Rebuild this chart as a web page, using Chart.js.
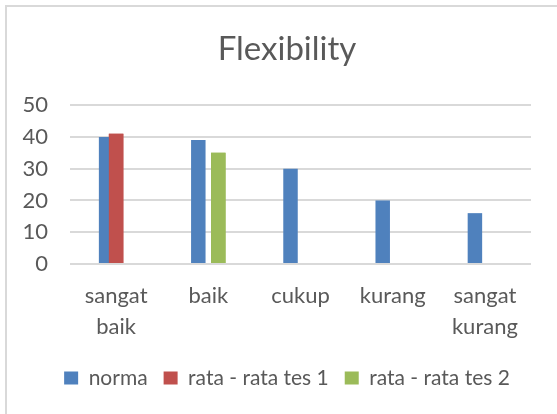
<!DOCTYPE html>
<html>
<head>
<meta charset="utf-8">
<title>Flexibility</title>
<script src="https://cdn.jsdelivr.net/npm/chart.js@4"></script>
<style>
    html, body { margin: 0; padding: 0; background: #ffffff; }
    #wrap { position: relative; width: 557px; height: 414px; overflow: hidden; }
    #frame {
        position: absolute; left: 5px; top: 5px; width: 600px; height: 500px;
        border-left: 2px solid #d9d9d9; border-top: 2px solid #d9d9d9;
    }
    canvas { position: absolute; left: 0; top: 0; }
</style>
</head>
<body>
<div id="wrap">
    <div id="frame"></div>
    <canvas id="flexChart" width="557" height="414"></canvas>
</div>
<script>
// Категории и значения
const categories = [['sangat', 'baik'], 'baik', 'cukup', 'kurang', ['sangat', 'kurang']];
const norma = [40, 39, 30, 20, 16];
const rataTes1 = [41, null, null, null, null];
const rataTes2 = [null, 35, null, null, null];
const yTicks = [0, 10, 20, 30, 40, 50];

const textColor = '#595959';
const fontFamily = 'Lato, "Open Sans", sans-serif';

// Рисуем серии по порядку, чтобы следующая лежала поверх предыдущей (как в Excel)
const drawOrder = {
    id: 'drawOrder',
    afterLayout(chart) {
        // подписи оси Y выходят левее самой оси, расширяем область отсечения
        chart.scales.y.left = 10;
    },
    afterDatasetsDraw(chart) {
        for (let i = 1; i < chart.data.datasets.length; i++) {
            chart.getDatasetMeta(i).controller.draw();
        }
    }
};

document.addEventListener('DOMContentLoaded', function() {
    const ctx = document.getElementById('flexChart').getContext('2d');

    new Chart(ctx, {
        type: 'bar',
        data: {
            labels: categories,
            datasets: [
                { label: 'norma', data: norma, backgroundColor: '#4F81BD' },
                { label: 'rata - rata tes 1', data: rataTes1, backgroundColor: '#C0504D' },
                { label: 'rata - rata tes 2', data: rataTes2, backgroundColor: '#9BBB59' }
            ]
        },
        options: {
            responsive: false,
            animation: false,
            categoryPercentage: 0.325,
            barPercentage: 1.45,
            layout: {
                padding: { left: 43, right: 26, top: 0, bottom: 15.5 }
            },
            plugins: {
                title: {
                    display: true,
                    text: 'Flexibility',
                    color: textColor,
                    font: { family: fontFamily, size: 33, weight: 'normal' },
                    padding: { top: 30, bottom: 35.5 }
                },
                legend: {
                    position: 'bottom',
                    labels: {
                        color: textColor,
                        font: { family: fontFamily, size: 21 },
                        boxWidth: 14,
                        boxHeight: 13,
                        padding: 16
                    }
                },
                tooltip: { enabled: false }
            },
            scales: {
                x: {
                    grid: { display: false, drawTicks: false },
                    border: { display: false },
                    ticks: {
                        color: textColor,
                        font: { family: fontFamily, size: 22, lineHeight: 1.38 },
                        maxRotation: 0,
                        autoSkip: false,
                        padding: 17
                    },
                    afterFit(scale) { scale.height = 87.5; }
                },
                y: {
                    min: 0,
                    max: 50,
                    afterBuildTicks(scale) {
                        scale.ticks = yTicks.map(v => ({ value: v }));
                    },
                    grid: { color: '#d9d9d9', lineWidth: 2, drawTicks: false },
                    border: { display: false },
                    ticks: {
                        color: textColor,
                        font: { family: fontFamily, size: 22 },
                        padding: 22,
                        autoSkip: false
                    },
                    afterFit(scale) { scale.width = 27; }
                }
            }
        },
        plugins: [drawOrder]
    });
});
</script>
</body>
</html>
